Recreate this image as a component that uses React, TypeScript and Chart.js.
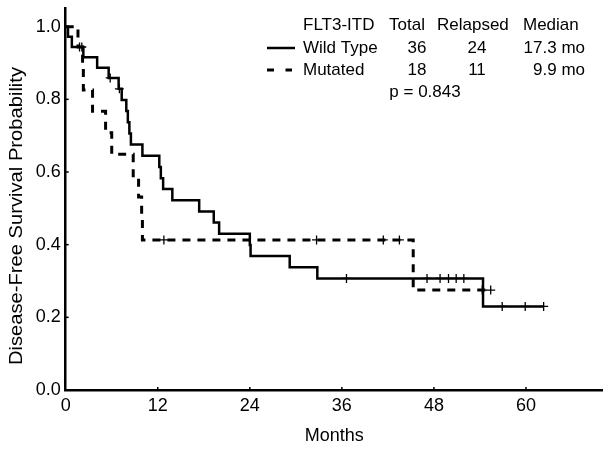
import React, { useEffect, useRef } from 'react';
import { Chart, registerables } from 'chart.js';

Chart.register(...registerables);

// ---- axes ----
const xTickValues = [0, 12, 24, 36, 48, 60];
const yTickValues = [0, 0.2, 0.4, 0.6, 0.8, 1.0];
const xMax = 70;
const yMax = 1.05;

// ---- Kaplan-Meier curves (time in months, survival probability) ----
const wildTimes = [0, 0.3, 0.8, 2.3, 4.1, 5.6, 6.9, 7.3, 7.9, 8.1, 8.3, 8.5, 10.0, 12.2, 12.4, 12.7, 13.9, 17.4, 19.3, 20.0, 24.0, 24.1, 29.2, 32.8, 54.4, 62.3];
const wildSurv = [1.0, 0.972, 0.944, 0.916, 0.887, 0.859, 0.829, 0.798, 0.768, 0.737, 0.706, 0.676, 0.645, 0.614, 0.583, 0.553, 0.522, 0.491, 0.461, 0.430, 0.399, 0.369, 0.338, 0.307, 0.230, 0.230];
const wildCensorTimes = [1.8, 5.8, 7.0, 36.6, 47.1, 48.8, 49.9, 50.9, 51.9, 56.9, 59.9, 62.3];

const mutTimes = [0, 1.6, 2.2, 2.3, 3.5, 5.2, 6.0, 8.8, 9.5, 9.9, 10.0, 45.3, 55.4];
const mutSurv = [1.0, 0.944, 0.885, 0.826, 0.767, 0.708, 0.649, 0.590, 0.531, 0.472, 0.413, 0.275, 0.275];
const mutCensorTimes = [2.1, 12.8, 32.7, 41.4, 43.5, 54.3, 55.4];

// ---- legend table ----
const legendHeader = ['FLT3-ITD', 'Total', 'Relapsed', 'Median'];
const groupNames = ['Wild Type', 'Mutated'];
const groupTotals = ['36', '18'];
const groupRelapsed = ['24', '11'];
const groupMedians = ['17.3 mo', '9.9 mo'];
const pValueText = 'p = 0.843';

const yTitle = 'Disease-Free Survival Probability';
const xTitle = 'Months';

const FONT = '"Liberation Sans", Arial, Helvetica, sans-serif';

function survAt(times: number[], surv: number[], t: number): number {
  let v = surv[0];
  for (let i = 0; i < times.length; i++) {
    if (times[i] <= t) v = surv[i];
  }
  return v;
}

const overlayPlugin = {
  id: 'overlay',
  afterDraw(chart: any) {
    const ctx: CanvasRenderingContext2D = chart.ctx;
    const { x, y } = chart.scales;
    const area = chart.chartArea;
    ctx.save();
    ctx.fillStyle = '#000';
    ctx.strokeStyle = '#000';

    // small inward tick marks
    ctx.lineWidth = 1.5;
    xTickValues.forEach((v) => {
      if (v === 0) return;
      const px = x.getPixelForValue(v);
      ctx.beginPath();
      ctx.moveTo(px, area.bottom);
      ctx.lineTo(px, area.bottom - 3);
      ctx.stroke();
    });
    yTickValues.forEach((v) => {
      if (v === 0) return;
      const py = y.getPixelForValue(v);
      ctx.beginPath();
      ctx.moveTo(area.left, py);
      ctx.lineTo(area.left + 3, py);
      ctx.stroke();
    });

    // y-axis title (slightly stretched along its length, as in the original)
    ctx.save();
    ctx.translate(17, 216);
    ctx.rotate(-Math.PI / 2);
    ctx.scale(1.12, 1);
    ctx.font = `18px ${FONT}`;
    ctx.textAlign = 'center';
    ctx.textBaseline = 'middle';
    ctx.fillText(yTitle, 0, 0);
    ctx.restore();

    // legend table
    ctx.font = `17px ${FONT}`;
    ctx.textBaseline = 'middle';
    const headerLeft = [303, 389, 437, 523];
    legendHeader.forEach((h, i) => {
      ctx.textAlign = 'left';
      ctx.fillText(h, headerLeft[i], 25);
    });
    const rowY = [48, 70];
    groupNames.forEach((name, i) => {
      ctx.textAlign = 'left';
      ctx.fillText(name, 303, rowY[i]);
      ctx.textAlign = 'center';
      ctx.fillText(groupTotals[i], 417, rowY[i]);
      ctx.fillText(groupRelapsed[i], 477, rowY[i]);
      ctx.textAlign = 'right';
      ctx.fillText(groupMedians[i], 585, rowY[i]);
    });
    ctx.textAlign = 'center';
    ctx.fillText(pValueText, 425, 92);

    // legend line samples
    ctx.lineWidth = 2.5;
    ctx.setLineDash([]);
    ctx.beginPath();
    ctx.moveTo(267, rowY[0]);
    ctx.lineTo(295, rowY[0]);
    ctx.stroke();
    ctx.lineWidth = 3;
    ctx.setLineDash([7, 11.5]);
    ctx.beginPath();
    ctx.moveTo(267, rowY[1]);
    ctx.lineTo(292, rowY[1]);
    ctx.stroke();
    ctx.restore();
  },
};

export default function App() {
  const canvasRef = useRef<HTMLCanvasElement | null>(null);

  useEffect(() => {
    if (!canvasRef.current) return;
    const wildData = wildTimes.map((t, i) => ({ x: t, y: wildSurv[i] }));
    const mutData = mutTimes.map((t, i) => ({ x: t, y: mutSurv[i] }));
    const wildCensor = wildCensorTimes.map((t) => ({ x: t, y: survAt(wildTimes, wildSurv, t) }));
    const mutCensor = mutCensorTimes.map((t) => ({ x: t, y: survAt(mutTimes, mutSurv, t) }));

    const chart = new Chart(canvasRef.current, {
      type: 'line',
      data: {
        datasets: [
          {
            label: 'Wild Type',
            data: wildData,
            borderColor: '#000',
            borderWidth: 2.5,
            pointRadius: 0,
            stepped: 'before',
            fill: false,
          },
          {
            label: 'Mutated',
            data: mutData,
            borderColor: '#000',
            borderWidth: 3,
            borderDash: [8, 7],
            pointRadius: 0,
            stepped: 'before',
            fill: false,
          },
          {
            label: 'Wild Type censored',
            data: wildCensor,
            showLine: false,
            pointStyle: 'cross',
            pointRadius: 4.5,
            pointBorderWidth: 1.3,
            pointBorderColor: '#000',
            borderColor: '#000',
          },
          {
            label: 'Mutated censored',
            data: mutCensor,
            showLine: false,
            pointStyle: 'cross',
            pointRadius: 4.5,
            pointBorderWidth: 1.3,
            pointBorderColor: '#000',
            borderColor: '#000',
          },
        ],
      },
      options: {
        animation: false,
        responsive: false,
        maintainAspectRatio: false,
        layout: { padding: { top: 8.5, right: 9.3, left: 0, bottom: 0 } },
        plugins: {
          legend: { display: false },
          tooltip: { enabled: false },
        },
        scales: {
          x: {
            type: 'linear',
            min: 0,
            max: xMax,
            afterBuildTicks: (s: any) => {
              s.ticks = xTickValues.map((v) => ({ value: v }));
            },
            afterFit: (s: any) => {
              s.height = 60;
              s.paddingLeft = 0;
              s.paddingRight = 0;
            },
            grid: { display: false, drawTicks: false },
            border: { display: true, color: '#000', width: 2.5 },
            ticks: {
              color: '#000',
              font: { family: FONT, size: 18 },
              padding: 5,
              maxRotation: 0,
              autoSkip: false,
              callback: (v: any) => String(v),
            },
            title: {
              display: true,
              text: xTitle,
              color: '#000',
              font: { family: FONT, size: 18 },
              padding: { top: 0, bottom: 3 },
            },
          },
          y: {
            type: 'linear',
            min: 0,
            max: yMax,
            afterBuildTicks: (s: any) => {
              s.ticks = yTickValues.map((v) => ({ value: v }));
            },
            afterFit: (s: any) => {
              s.width = 65.7;
              s.paddingTop = 0;
              s.paddingBottom = 0;
            },
            grid: { display: false, drawTicks: false },
            border: { display: true, color: '#000', width: 2.5 },
            ticks: {
              color: '#000',
              font: { family: FONT, size: 18 },
              padding: 5,
              autoSkip: false,
              callback: (v: any) => Number(v).toFixed(1),
            },
          },
        },
      },
      plugins: [overlayPlugin],
    });
    return () => chart.destroy();
  }, []);

  return (
    <div style={{ position: 'fixed', left: 0, top: 0, width: 612, height: 450, background: '#fff' }}>
      <canvas ref={canvasRef} width={612} height={450} />
    </div>
  );
}
